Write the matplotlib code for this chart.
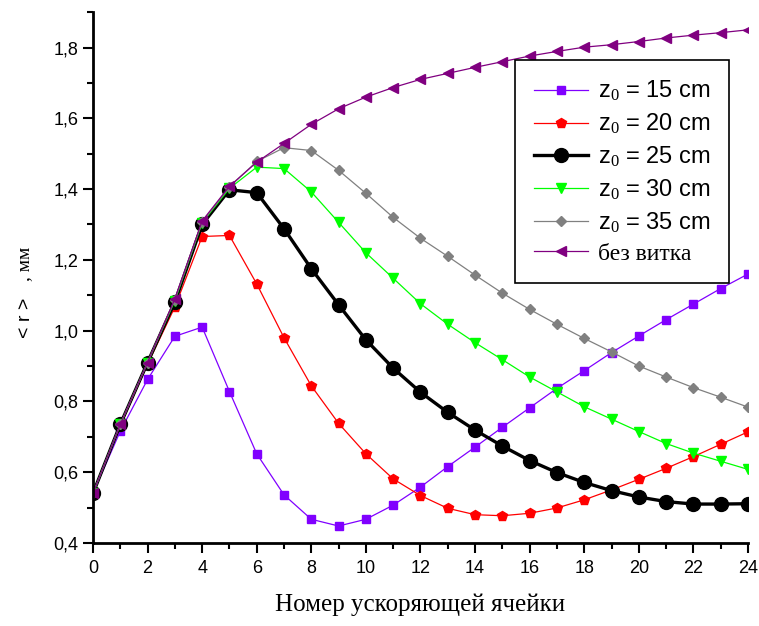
# -*- coding: utf-8 -*-
# <r> vs accelerating cell number for different coil positions z0
import numpy as np
from matplotlib import pyplot as plt

plt.rcParams['font.family'] = ['Liberation Sans', 'DejaVu Sans']
plt.rcParams['mathtext.fontset'] = 'custom'
plt.rcParams['mathtext.rm'] = 'Liberation Serif'
plt.rcParams['mathtext.it'] = 'Liberation Serif:italic'

cells = np.arange(0, 25)

r_15 = [0.54, 0.716, 0.862, 0.984, 1.010, 0.828, 0.652, 0.536, 0.467, 0.448,
        0.467, 0.507, 0.558, 0.616, 0.671, 0.727, 0.782, 0.837, 0.887, 0.938,
        0.985, 1.031, 1.075, 1.119, 1.160]
r_20 = [0.54, 0.73, 0.905, 1.067, 1.266, 1.269, 1.132, 0.980, 0.844, 0.738,
        0.652, 0.581, 0.534, 0.498, 0.480, 0.477, 0.484, 0.499, 0.522, 0.550,
        0.580, 0.611, 0.644, 0.679, 0.714]
r_25 = [0.54, 0.735, 0.91, 1.081, 1.300, 1.398, 1.390, 1.288, 1.175, 1.073,
        0.974, 0.894, 0.826, 0.769, 0.719, 0.674, 0.633, 0.599, 0.571, 0.548,
        0.530, 0.517, 0.510, 0.510, 0.511]
r_30 = [0.54, 0.735, 0.91, 1.085, 1.305, 1.402, 1.462, 1.458, 1.392, 1.306,
        1.220, 1.148, 1.076, 1.018, 0.966, 0.918, 0.869, 0.827, 0.785, 0.750,
        0.715, 0.681, 0.654, 0.631, 0.608]
r_35 = [0.54, 0.735, 0.91, 1.087, 1.307, 1.406, 1.478, 1.517, 1.509, 1.453,
        1.388, 1.320, 1.261, 1.210, 1.157, 1.106, 1.060, 1.018, 0.978, 0.940,
        0.900, 0.869, 0.839, 0.812, 0.784]
r_none = [0.54, 0.735, 0.91, 1.09, 1.31, 1.408, 1.476, 1.529, 1.583, 1.627,
          1.660, 1.687, 1.710, 1.727, 1.744, 1.760, 1.776, 1.789, 1.801, 1.808,
          1.817, 1.827, 1.835, 1.842, 1.850]

labels = [r'z$_{\mathrm{ 0}}$ = 15 cm', r'z$_{\mathrm{ 0}}$ = 20 cm',
          r'z$_{\mathrm{ 0}}$ = 25 cm', r'z$_{\mathrm{ 0}}$ = 30 cm',
          r'z$_{\mathrm{ 0}}$ = 35 cm', 'без витка']

fig = plt.figure(figsize=(7.59, 6.26), dpi=100)
ax = fig.add_axes([0.1225, 0.1326, 0.863, 0.848])

ax.plot(cells, r_15, color='#8000ff', lw=0.9, marker='s', ms=5.5, label=labels[0])
ax.plot(cells, r_20, color='#ff0000', lw=0.9, marker='p', ms=7, label=labels[1])
ax.plot(cells, r_25, color='black', lw=2.4, marker='o', ms=10, label=labels[2])
ax.plot(cells, r_30, color='#00ff00', lw=0.9, marker='v', ms=7, label=labels[3])
ax.plot(cells, r_35, color='#808080', lw=0.9, marker='D', ms=5, label=labels[4])
ax.plot(cells, r_none, color='#800080', lw=0.9, marker='<', ms=7, label=labels[5])

ax.set_xlim(0, 24)
ax.set_ylim(0.4, 1.9)
ax.set_xticks(np.arange(0, 25, 2))
ax.set_xticks(np.arange(0, 25, 1), minor=True)
ax.set_yticks(np.arange(0.4, 1.81, 0.2))
ax.set_yticks(np.arange(0.4, 1.91, 0.1), minor=True)
ax.set_yticklabels([('%.1f' % v).replace('.', ',') for v in np.arange(0.4, 1.81, 0.2)])
ax.tick_params(which='major', direction='out', length=7, width=1.5, labelsize=13)
ax.tick_params(axis='x', which='major', pad=5)
ax.tick_params(which='minor', direction='out', length=4, width=1.5)
ax.spines['top'].set_visible(False)
ax.spines['right'].set_visible(False)
ax.spines['left'].set_linewidth(2)
ax.spines['bottom'].set_linewidth(2)

ax.set_xlabel('Номер ускоряющей ячейки', family='Liberation Serif', fontsize=18, labelpad=12)
# y label: "< r >" in sans, ", мм" in serif
fig.text(0.034, 0.492, '< r >', rotation=90, fontsize=14, ha='center', va='center')
fig.text(0.033, 0.578, ', мм', rotation=90, fontsize=14, family='Liberation Serif',
         ha='center', va='center')

leg = ax.legend(loc='upper right', bbox_to_anchor=(0.971, 0.9096), borderaxespad=0,
                fontsize=17, handlelength=2.3, fancybox=False, framealpha=1,
                edgecolor='black', borderpad=0.8, labelspacing=0.36, handletextpad=0.4)
leg.get_frame().set_linewidth(1.2)
for t in leg.get_texts()[-1:]:
    t.set_family('Liberation Serif')

plt.savefig('out.png', dpi=100)
